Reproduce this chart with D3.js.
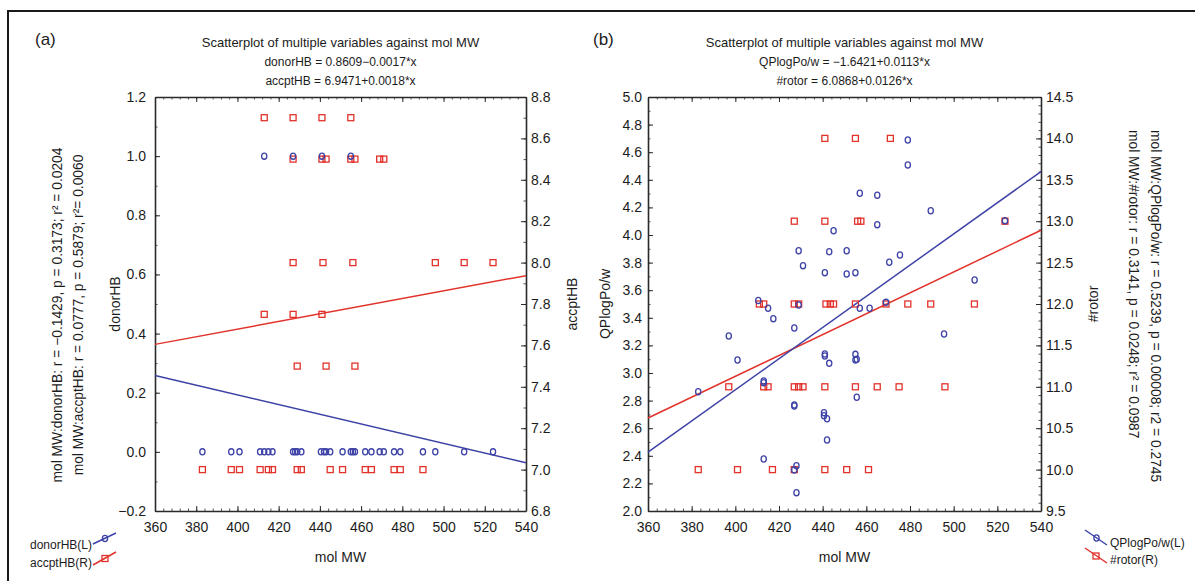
<!DOCTYPE html>
<html><head><meta charset="utf-8">
<script src="https://cdn.jsdelivr.net/npm/d3@7"></script>
<style>
body{margin:0;background:#fff}
svg text{font-family:"Liberation Sans",Arial,Helvetica,sans-serif;fill:#1c1c1c}
</style>
</head><body>
<svg id="chart" width="1195" height="581"></svg>
<script>
// ---------- DATA ----------
const xTicks = [360,380,400,420,440,460,480,500,520,540];
const yTicksDonor = [-0.2,0,0.2,0.4,0.6,0.8,1.0,1.2];
const yTicksAccpt = [6.8,7.0,7.2,7.4,7.6,7.8,8.0,8.2,8.4,8.6,8.8];
const yTicksQP = [2.0,2.2,2.4,2.6,2.8,3.0,3.2,3.4,3.6,3.8,4.0,4.2,4.4,4.6,4.8,5.0];
const yTicksRotor = [9.5,10.0,10.5,11.0,11.5,12.0,12.5,13.0,13.5,14.0,14.5];

// Panel (a): donorHB (left axis)
const donorMW = [413,427,441,455,
  383,397,401,411,413,415,417,427,428,429,431,440.5,442,443,445,451,455,456,457,462,465,469,471,476,479,490,496,510,524];
const donorHB = [1,1,1,1,
  0,0,0,0,0,0,0,0,0,0,0,0,0,0,0,0,0,0,0,0,0,0,0,0,0,0,0,0,0];
// Panel (a): accptHB (right axis)
const accptMW = [413,427,441,455,
  427,441,443,455,457,469,471,
  427,441.5,456,496,510,524,
  413,427,441,
  429,443,457,
  383,397,401,411,415,417,429,431,445,451,462,465,476,479,490];
const accptHB = [8.7,8.7,8.7,8.7,
  8.5,8.5,8.5,8.5,8.5,8.5,8.5,
  8.0,8.0,8.0,8.0,8.0,8.0,
  7.75,7.75,7.75,
  7.5,7.5,7.5,
  7,7,7,7,7,7,7,7,7,7,7,7,7,7,7];

// Panel (b): QPlogPo/w (left axis)
const qpMW = [383,397,401,410.5,413,413,413,415,417.4,427,427,427,427,428,428,429,429,431,
  441,441,441,440.6,440.6,442,442,443,443,445,451,451,455,455,455,455.6,455.6,
  457,457,461.5,465,465,469,470.5,475.4,479,479,489.5,495.6,509.6,523.5];
const qpLogPo = [2.865,3.268,3.094,3.525,2.942,2.93,2.377,3.469,3.394,3.326,2.768,2.761,2.297,2.328,2.133,3.886,3.493,3.778,
  3.727,3.138,3.123,2.712,2.69,2.669,2.514,3.879,3.07,4.031,3.886,3.717,3.727,3.135,3.094,3.10,2.824,
  4.302,3.469,3.469,4.288,4.075,3.512,3.802,3.855,4.688,4.507,4.176,3.283,3.674,4.104];
// Panel (b): #rotor (right axis)
const rotorMW = [441,455,471,
  427,441,456,457.5,523.5,
  411,413,427,429,441.5,443.5,445,455,469,479,489.5,509.5,
  397,413,415,427,429,431,441,455,465,475,496,
  383,401,417,427,441,451,461];
const rotor = [14,14,14,
  13,13,13,13,13,
  12,12,12,12,12,12,12,12,12,12,12,12,
  11,11,11,11,11,11,11,11,11,11,11,
  10,10,10,10,10,10,10];

// fitted lines [value at 360, value at 540]
const fitX = [360,540];
const fitDonor = [0.258,-0.037];
const fitAccpt = [7.605,7.937];
const fitQP = [-1.6421+0.0113*360, -1.6421+0.0113*540];
const fitRotor = [6.0868+0.0126*360, 6.0868+0.0126*540];

// ---------- STYLE ----------
const BLUE = "#3d42a6", RED = "#e2322b", AX = "#2a2a2a";
const svg = d3.select("#chart");

svg.append("rect").attr("x",8).attr("y",11).attr("width",1200).attr("height",620)
  .attr("fill","none").attr("stroke","#1a1a1a").attr("stroke-width",2);

function range(a,b,s){const o=[];for(let v=a;v<=b+1e-9;v+=s)o.push(+v.toFixed(4));return o;}

function styleAxis(g, fs){
  g.select(".domain").attr("stroke",AX).attr("stroke-width",1.6);
  g.selectAll(".tick line").attr("stroke",AX).attr("stroke-width",1);
  g.selectAll(".tick text").attr("font-size",fs).attr("fill","#1c1c1c")
    .style("font-family",'"Liberation Sans",Arial,sans-serif');
}

function panel(c){
  const x = d3.scaleLinear().domain([360,540]).range([c.l,c.r]);
  const yL = d3.scaleLinear().domain(c.yLdom).range([c.b,c.t]);
  const yR = d3.scaleLinear().domain(c.yRdom).range([c.b,c.t]);
  const g = svg.append("g");
  const xMinor = range(360,540,4);
  const fmt1 = d3.format(".1f");

  // minor ticks
  const m1 = g.append("g").attr("transform",`translate(0,${c.b})`)
    .call(d3.axisBottom(x).tickValues(xMinor).tickSize(-2.5).tickFormat(""));
  const m2 = g.append("g").attr("transform",`translate(0,${c.t})`)
    .call(d3.axisTop(x).tickValues(xMinor).tickSize(-2.5).tickFormat(""));
  const m3 = g.append("g").attr("transform",`translate(${c.l},0)`)
    .call(d3.axisLeft(yL).tickValues(range(c.yLdom[0],c.yLdom[1],c.yLminor)).tickSize(-2.5).tickFormat(""));
  const m4 = g.append("g").attr("transform",`translate(${c.r},0)`)
    .call(d3.axisRight(yR).tickValues(range(c.yRdom[0],c.yRdom[1],c.yRminor)).tickSize(-2.5).tickFormat(""));
  [m1,m2,m3,m4].forEach(a=>{a.select(".domain").remove();a.selectAll(".tick line").attr("stroke",AX).attr("stroke-width",0.8);});

  const ab = g.append("g").attr("transform",`translate(0,${c.b})`)
    .call(d3.axisBottom(x).tickValues(xTicks).tickSizeInner(-5).tickSizeOuter(0).tickPadding(11).tickFormat(d3.format("d")));
  const at = g.append("g").attr("transform",`translate(0,${c.t})`)
    .call(d3.axisTop(x).tickValues(xTicks).tickSizeInner(-5).tickSizeOuter(0).tickFormat(""));
  const al = g.append("g").attr("transform",`translate(${c.l},0)`)
    .call(d3.axisLeft(yL).tickValues(c.yLticks).tickSizeInner(-5).tickSizeOuter(0).tickPadding(c.padL).tickFormat(fmt1));
  const ar = g.append("g").attr("transform",`translate(${c.r},0)`)
    .call(d3.axisRight(yR).tickValues(c.yRticks).tickSizeInner(-5).tickSizeOuter(0).tickPadding(5).tickFormat(fmt1));
  [ab,at,al,ar].forEach(a=>styleAxis(a,14));

  // fitted lines
  const line = (ys, sc) => d3.line().x((d,i)=>x(fitX[i])).y((d)=>sc(d))(ys);
  g.append("path").attr("d",line(c.fitR,yR)).attr("stroke",RED).attr("stroke-width",1.5).attr("fill","none");
  g.append("path").attr("d",line(c.fitL,yL)).attr("stroke",BLUE).attr("stroke-width",1.5).attr("fill","none");

  // points
  g.append("g").selectAll("rect").data(c.rX).join("rect")
    .attr("x",(d)=>x(d)-3).attr("y",(d,i)=>yR(c.rY[i])-3).attr("width",6).attr("height",6)
    .attr("fill","none").attr("stroke",RED).attr("stroke-width",1.3);
  g.append("g").selectAll("ellipse").data(c.lX).join("ellipse")
    .attr("cx",(d)=>x(d)).attr("cy",(d,i)=>yL(c.lY[i])).attr("rx",2.6).attr("ry",3.1)
    .attr("fill","none").attr("stroke",BLUE).attr("stroke-width",1.3);

  // titles
  const cx = (c.l+c.r)/2;
  svg.append("text").attr("x",cx).attr("y",47).attr("text-anchor","middle").attr("font-size",13)
    .text("Scatterplot of multiple variables against mol MW");
  svg.append("text").attr("x",cx).attr("y",66).attr("text-anchor","middle").attr("font-size",12).text(c.eq1);
  svg.append("text").attr("x",cx).attr("y",85).attr("text-anchor","middle").attr("font-size",12).text(c.eq2);
  svg.append("text").attr("x",c.tagX).attr("y",45).attr("font-size",17).text(c.tag);
  svg.append("text").attr("x",cx).attr("y",562).attr("text-anchor","middle").attr("font-size",14).text("mol MW");
  svg.append("text").attr("transform",`translate(${c.ylX},304) rotate(-90)`).attr("dy","0.35em")
    .attr("text-anchor","middle").attr("font-size",14).text(c.ylab);
  svg.append("text").attr("transform",`translate(${c.yrX},304) rotate(-90)`).attr("dy","0.35em")
    .attr("text-anchor","middle").attr("font-size",14).text(c.yrab);
}

panel({l:155,r:526,t:97,b:511,yLdom:[-0.2,1.2],yRdom:[6.8,8.8],yLticks:yTicksDonor,yRticks:yTicksAccpt,
  yLminor:0.1,yRminor:0.1,padL:9,
  lX:donorMW,lY:donorHB,rX:accptMW,rY:accptHB,fitL:fitDonor,fitR:fitAccpt,
  eq1:"donorHB = 0.8609\u22120.0017*x",eq2:"accptHB = 6.9471+0.0018*x",tag:"(a)",tagX:35,
  ylab:"donorHB",ylX:115,yrab:"accptHB",yrX:572});
panel({l:648,r:1041,t:97,b:511,yLdom:[2.0,5.0],yRdom:[9.5,14.5],yLticks:yTicksQP,yRticks:yTicksRotor,
  yLminor:0.1,yRminor:0.1,padL:6,
  lX:qpMW,lY:qpLogPo,rX:rotorMW,rY:rotor,fitL:fitQP,fitR:fitRotor,
  eq1:"QPlogPo/w = \u22121.6421+0.0113*x",eq2:"#rotor = 6.0868+0.0126*x",tag:"(b)",tagX:593,
  ylab:"QPlogPo/w",ylX:605,yrab:"#rotor",yrX:1093});

// side statistics
function sideText(xc, y, rot, anchor, s){
  svg.append("text").attr("transform",`translate(${xc},${y}) rotate(${rot})`).attr("dy","0.35em")
    .attr("text-anchor",anchor).attr("font-size",13.8).text(s);
}
sideText(57,315,-90,"middle","mol MW:donorHB: r = \u22120.1429, p = 0.3173; r\u00b2 = 0.0204");
sideText(78,315,-90,"middle","mol MW:accptHB: r = 0.0777, p = 0.5879; r\u00b2= 0.0060");
sideText(1156,130,90,"start","mol MW:QPlogPo/w: r = 0.5239, p = 0.00008; r2 = 0.2745");
sideText(1134,130,90,"start","mol MW:#rotor: r = 0.3141, p = 0.0248; r\u00b2 = 0.0987");

// legends
function legendItem(x1,y1,x2,y2,mx,my,shape,color,label,tx,ty){
  svg.append("line").attr("x1",x1).attr("y1",y1).attr("x2",x2).attr("y2",y2)
    .attr("stroke",color).attr("stroke-width",1.5);
  if(shape==="c") svg.append("ellipse").attr("cx",mx).attr("cy",my).attr("rx",2.6).attr("ry",3.1)
    .attr("fill","none").attr("stroke",color).attr("stroke-width",1.3);
  else svg.append("rect").attr("x",mx-3).attr("y",my-3).attr("width",6).attr("height",6)
    .attr("fill","none").attr("stroke",color).attr("stroke-width",1.3);
  svg.append("text").attr("x",tx).attr("y",ty).attr("dy","0.35em").attr("font-size",12).text(label);
}
legendItem(93,544,116,533,105,538.5,"c",BLUE,"donorHB(L)",30,545);
legendItem(93,565,116,552,105,558.5,"s",RED,"accptHB(R)",30,563);
legendItem(1085,530,1107,545,1096.5,538,"c",BLUE,"QPlogPo/w(L)",1110,543);
legendItem(1085,548,1107,563,1096,556,"s",RED,"#rotor(R)",1110,560);
</script>
</body></html>
